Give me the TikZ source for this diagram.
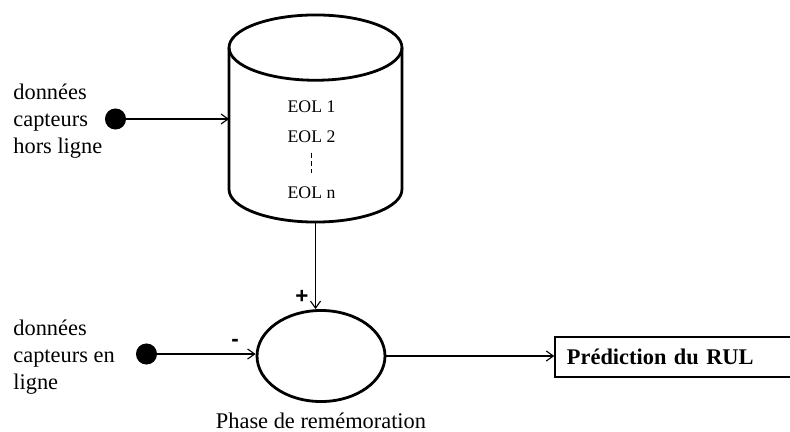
\documentclass[tikz,border=0pt]{standalone}
\usepackage{fontspec}
\setmainfont{Liberation Serif}
\newfontfamily\signfont{Liberation Sans}
\usetikzlibrary{arrows.meta,positioning,shapes.geometric}

\begin{document}
\begin{tikzpicture}[
  x=0.536pt, y=-0.536pt,
  node distance=2pt,
  dbase/.style={minimum width=92.7pt, minimum height=111pt, inner sep=0, outer sep=0},
  dbline/.style={line width=1.5pt},
  recall/.style={ellipse, draw, line width=1.5pt, minimum width=68.6pt,
                 minimum height=48.8pt, inner sep=0},
  src/.style={circle, fill=black, inner sep=0, minimum size=11.3pt},
  lbl/.style={font=\fontsize{12}{14.5}\selectfont, align=left, inner sep=0},
  eol/.style={font=\fontsize{9.5}{11}\selectfont, inner sep=0, anchor=base},
  sign/.style={font=\signfont\bfseries\fontsize{12}{14}\selectfont, inner sep=0},
  result/.style={draw, line width=0.8pt, minimum height=21.4pt, text width=118.5pt,
                 inner xsep=6.4pt, align=left, font=\bfseries\fontsize{12}{14}\selectfont},
  arr/.style={-{Straight Barb[length=3.8pt, width=5.4pt]}, semithick}]
\useasboundingbox (0,0) rectangle (790,431);
\node[dbase] (db) at (315.5,118.5) {};
\draw[dbline] ([yshift=-17.5pt]db.north west) -- ([yshift=17.5pt]db.south west)
  arc[start angle=180, end angle=360, x radius=46.35pt, y radius=17.5pt]
  -- ([yshift=-17.5pt]db.north east);
\draw[dbline] ([yshift=-17.5pt]db.north) ellipse[x radius=46.35pt, y radius=17.5pt];
\node[eol] (eol1) at (311.5,112) {EOL 1};
\node[eol] (eol2) at (311.5,142) {EOL 2};
\node[eol] (eoln) at (311.5,198) {EOL n};
\node[src] (off) at (115.5,119) {};
\node[lbl, anchor=west] (offtxt) at (13,121) {données\\capteurs\\hors ligne};
\node[recall] (rem) at (321,356) {};
\node[lbl, below=5.2pt of rem] (phase) {Phase de remémoration};
\node[src] (on) at (146.5,354) {};
\node[lbl, anchor=west] (ontxt) at (13,357) {données\\capteurs en\\ligne};
\node[result] (rul) at (677.5,357) {Prédiction du RUL};
\node[sign] (plus) at (302,297) {+};
\node[sign] (minus) at (235,343) {-};
\draw[arr] (off) -- (off -| db.west);
\draw[semithick, dash pattern=on 2.7pt off 1.8pt, shorten <=5.4pt, shorten >=7pt] (eol2) -- (eoln);
\draw[arr] (db.south) -- (db.south |- rem.north);
\draw[arr] (on) -- (on -| rem.west);
\draw[arr] (rem.east) -- (rem.east -| rul.west);
\end{tikzpicture}
\end{document}
